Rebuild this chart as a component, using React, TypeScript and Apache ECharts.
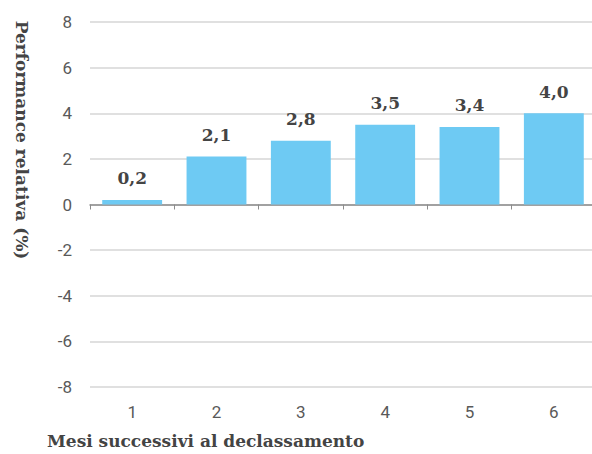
import React, { useEffect, useRef } from "react";
import * as echarts from "echarts";

const categories = ["1", "2", "3", "4", "5", "6"];
const values = [0.2, 2.1, 2.8, 3.5, 3.4, 4.0];
const yTicks = { min: -8, max: 8, interval: 2 };
const yTitle = "Performance relativa (%)";
const xTitle = "Mesi successivi al declassamento";

export default function App() {
  const ref = useRef<HTMLDivElement>(null);
  useEffect(() => {
    if (!ref.current) return;
    const chart = echarts.init(ref.current, null, { renderer: "svg" });
    chart.setOption({
      animation: false,
      grid: { left: 90, right: -4, top: 22, bottom: 67, outerBoundsMode: "none", containLabel: false },
      xAxis: [
        {
          type: "category",
          data: categories,
          position: "bottom",
          axisLine: { show: false, onZero: false },
          axisTick: { show: false },
          axisLabel: {
            color: "#595959",
            fontFamily: "Roboto",
            fontSize: 17,
            margin: 16,
          },
        },
        {
          type: "category",
          data: categories,
          position: "bottom",
          axisLine: { show: true, onZero: true, onZeroAxisIndex: 0, lineStyle: { color: "#8c8c8c", width: 1.5 } },
          axisTick: { show: true, length: 5, lineStyle: { color: "#8c8c8c" } },
          axisLabel: { show: false },
        },
      ],
      yAxis: {
        type: "value",
        min: yTicks.min,
        max: yTicks.max,
        interval: yTicks.interval,
        axisLine: { show: false },
        axisTick: { show: false },
        splitLine: { lineStyle: { color: "#d6d6d6", width: 1.5 } },
        axisLabel: {
          color: "#595959",
          fontFamily: "Roboto",
          fontSize: 17,
          margin: 18,
        },
      },
      series: [
        {
          type: "bar",
          xAxisIndex: 0,
          data: values,
          barCategoryGap: "29%",
          itemStyle: { color: "#6ECAF3" },
          label: {
            show: true,
            position: "top",
            distance: 13,
            color: "#444444",
            fontFamily: "DejaVu Serif",
            fontWeight: "bold",
            fontSize: 17,
            formatter: (p: any) => p.value.toFixed(1).replace(".", ","),
          },
        },
      ],
      graphic: [
        {
          type: "text",
          x: 22,
          y: 140,
          rotation: -Math.PI / 2,
          style: {
            text: yTitle,
            fill: "#444444",
            font: "bold 17px 'DejaVu Serif'",
            align: "center",
            verticalAlign: "middle",
          },
        },
        {
          type: "text",
          x: 47,
          y: 441,
          style: {
            text: xTitle,
            fill: "#444444",
            font: "bold 17px 'DejaVu Serif'",
            align: "left",
            verticalAlign: "middle",
          },
        },
      ],
    });
    return () => chart.dispose();
  }, []);
  return (
    <div
      ref={ref}
      style={{ position: "absolute", left: 0, top: 0, width: 592, height: 454 }}
    />
  );
}
